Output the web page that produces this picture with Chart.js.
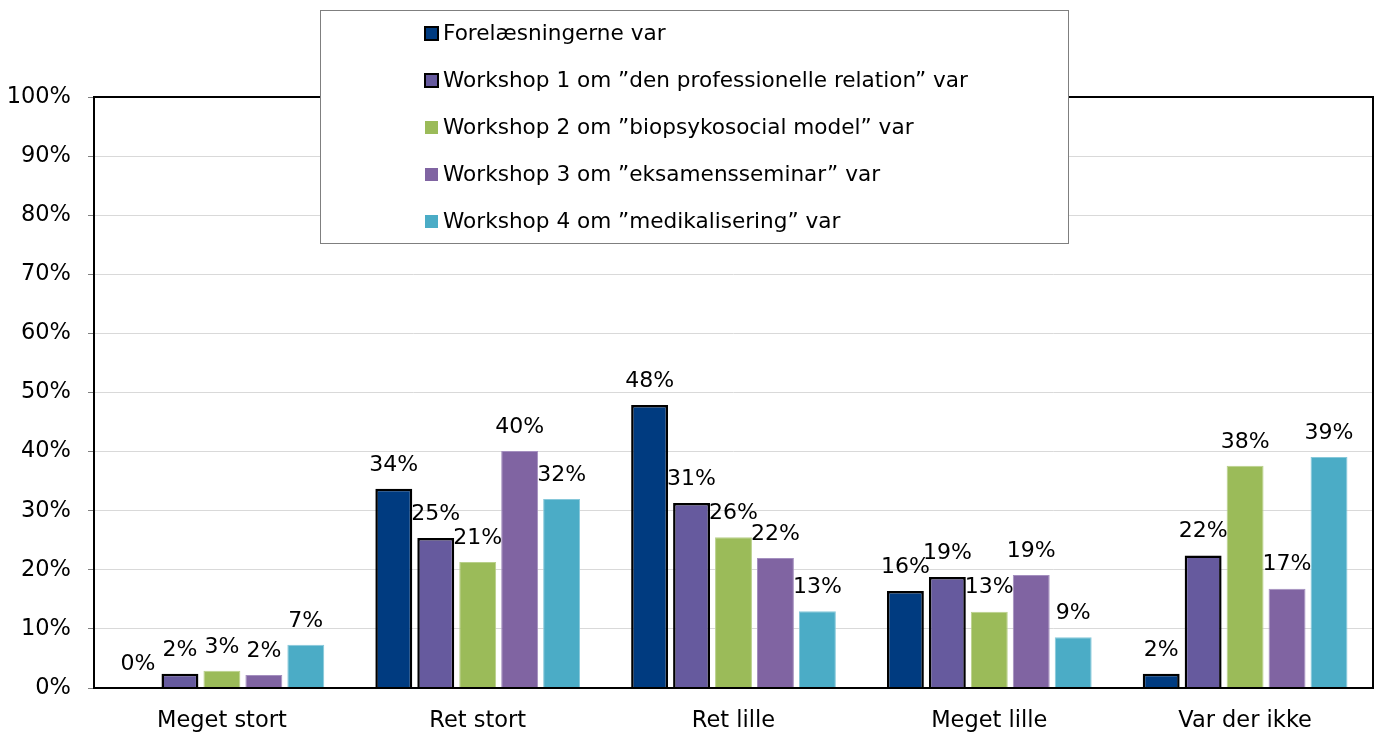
<!DOCTYPE html>
<html>
<head>
<meta charset="utf-8">
<script src="https://cdn.jsdelivr.net/npm/chart.js@4"></script>
<style>
  html, body { margin: 0; padding: 0; background: #fff; }
  #wrap { width: 1380px; height: 735px; }
</style>
</head>
<body>
<div id="wrap"><canvas id="svar"></canvas></div>
<script>
// kategorier og værdier (procent)
const categories = ['Meget stort', 'Ret stort', 'Ret lille', 'Meget lille', 'Var der ikke'];
const seriesNames = [
  'Forelæsningerne var',
  'Workshop 1 om ”den professionelle relation” var',
  'Workshop 2 om ”biopsykosocial model” var',
  'Workshop 3 om ”eksamensseminar” var',
  'Workshop 4 om ”medikalisering” var'
];
const forelaesninger = [0, 33.7, 47.9, 16.4, 2.4];
const workshop1 = [2.4, 25.4, 31.3, 18.8, 22.4];
const workshop2 = [2.9, 21.3, 25.5, 12.9, 37.6];
const workshop3 = [2.2, 40.1, 22.0, 19.1, 16.8];
const workshop4 = [7.3, 32.0, 13.0, 8.6, 39.1];
const yTicks = [0, 10, 20, 30, 40, 50, 60, 70, 80, 90, 100];

const FONT = '"DejaVu Sans", sans-serif';
const colors = ['#003B80', '#665A9E', '#9BBB59', '#8064A2', '#4BACC6'];
const borders = ['#000000', '#000000', '#B9D08A', '#A48FBF', '#86C8DA'];
const borderW = [2.5, 2.5, 1, 1, 1];

const allValues = [forelaesninger, workshop1, workshop2, workshop3, workshop4];

// data labels over søjlerne
const labelPlugin = {
  id: 'labels',
  afterDatasetsDraw(chart) {
    const ctx = chart.ctx;
    ctx.save();
    ctx.font = '22px ' + FONT;
    ctx.fillStyle = '#000';
    ctx.textAlign = 'center';
    ctx.textBaseline = 'middle';
    chart.data.datasets.forEach((ds, i) => {
      chart.getDatasetMeta(i).data.forEach((bar, j) => {
        ctx.fillText(Math.round(ds.data[j]) + '%', bar.x, bar.y - 24);
      });
    });
    ctx.restore();
  }
};

// sort ramme om plotområdet
const framePlugin = {
  id: 'frame',
  afterDraw(chart) {
    const a = chart.chartArea;
    const ctx = chart.ctx;
    ctx.save();
    ctx.strokeStyle = '#000';
    ctx.lineWidth = 2;
    ctx.strokeRect(a.left, a.top, a.right - a.left, a.bottom - a.top);
    ctx.restore();
  }
};

// forklaring i boks
const legendPlugin = {
  id: 'boxLegend',
  afterDraw(chart) {
    const ctx = chart.ctx;
    ctx.save();
    ctx.fillStyle = '#fff';
    ctx.fillRect(320, 10, 748, 233);
    ctx.strokeStyle = '#7f7f7f';
    ctx.lineWidth = 1;
    ctx.strokeRect(320.5, 10.5, 748, 233);
    ctx.font = '21.6px ' + FONT;
    ctx.textBaseline = 'middle';
    chart.data.datasets.forEach((ds, i) => {
      const y = 33 + i * 47;
      ctx.fillStyle = ds.backgroundColor;
      ctx.fillRect(425, y - 6, 13, 13);
      if (i < 2) {
        ctx.strokeStyle = '#000';
        ctx.lineWidth = 2;
        ctx.strokeRect(425, y - 6, 13, 13);
      }
      ctx.fillStyle = '#000';
      ctx.fillText(ds.label, 443, y + 1);
    });
    ctx.restore();
  }
};

new Chart(document.getElementById('svar'), {
  type: 'bar',
  data: {
    labels: categories,
    datasets: allValues.map((vals, i) => ({
      label: seriesNames[i],
      data: vals,
      backgroundColor: colors[i],
      borderColor: borders[i],
      borderWidth: borderW[i],
      barPercentage: 0.88,
      categoryPercentage: 0.82
    }))
  },
  options: {
    responsive: true,
    maintainAspectRatio: false,
    animation: false,
    layout: { padding: { top: 97, right: 7, left: 4, bottom: 0 } },
    plugins: {
      legend: { display: false },
      tooltip: { enabled: false }
    },
    scales: {
      x: {
        grid: { display: false, drawTicks: false },
        border: { display: false },
        ticks: { color: '#000', font: { family: FONT, size: 22.5 }, padding: 20 },
        afterFit(axis) { axis.height = 47; }
      },
      y: {
        min: 0,
        max: 100,
        afterBuildTicks(axis) { axis.ticks = yTicks.map(v => ({ value: v })); },
        grid: { color: '#d9d9d9', tickColor: '#808080', tickLength: 6 },
        border: { display: false },
        ticks: {
          color: '#000',
          font: { family: FONT, size: 22.5 },
          padding: 17,
          callback: v => v + '%'
        },
        afterFit(axis) { axis.width = 90; }
      }
    }
  },
  plugins: [labelPlugin, framePlugin, legendPlugin]
});
</script>
</body>
</html>
